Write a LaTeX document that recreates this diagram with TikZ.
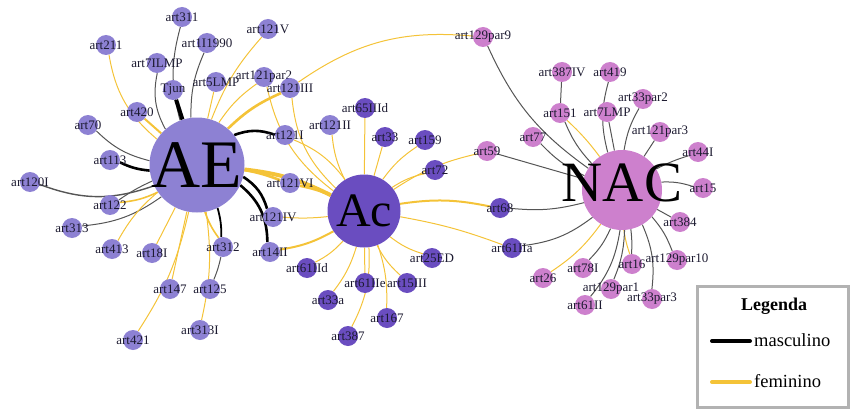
\documentclass[tikz,border=0pt]{standalone}
\usepackage{fontspec}
\setmainfont{Liberation Serif}
\pgfdeclarelayer{background}
\pgfsetlayers{background,main}
\definecolor{aecol}{HTML}{8D81D3}
\definecolor{accol}{HTML}{6A4DC0}
\definecolor{naccol}{HTML}{CD80CD}
\definecolor{femcol}{HTML}{F4C338}
\definecolor{neucol}{HTML}{555555}
\definecolor{lblcol}{HTML}{1C1A30}
\tikzset{
  sat/.style={circle, minimum size=20pt, inner sep=0pt},
  aesat/.style={sat, fill=aecol},
  acsat/.style={sat, fill=accol},
  nacsat/.style={sat, fill=naccol},
  lbl/.style={font=\fontsize{13}{13}\selectfont, text=lblcol, inner sep=0pt},
  biglbl/.style={inner sep=0pt, text=black},
  masc/.style={draw=black, line width=2.6pt},
  fem/.style={draw=femcol, line width=1pt},
  femw/.style={draw=femcol, line width=2.6pt},
  neu/.style={draw=neucol, line width=1pt},
}
\begin{document}
\begin{tikzpicture}[x=1pt,y=-1pt]
  \useasboundingbox (0,0) rectangle (850,409);
  % hubs
  \node[circle, fill=aecol, minimum size=95pt, inner sep=0pt,
        label={[biglbl, font=\fontsize{68}{68}\selectfont]center:AE}] (AE) at (197,165) {};
  \node[circle, fill=accol, minimum size=73pt, inner sep=0pt,
        label={[biglbl, font=\fontsize{48}{48}\selectfont]center:Ac}] (Ac) at (364,211) {};
  \node[circle, fill=naccol, minimum size=80pt, inner sep=0pt,
        label={[biglbl, font=\fontsize{57}{57}\selectfont, yshift=7pt]center:NAC}] (NAC) at (622,190) {};
  % AE articles
  \node[aesat, label={[lbl]center:art311}] (art311) at (182,17) {};
  \node[aesat, label={[lbl]center:art211}] (art211) at (106,45) {};
  \node[aesat, label={[lbl]center:art1I1990}] (art1I1990) at (207,43) {};
  \node[aesat, label={[lbl]center:art121V}] (art121V) at (268,29) {};
  \node[aesat, label={[lbl]center:art7ILMP}] (art7ILMP) at (157,63) {};
  \node[aesat, label={[lbl]center:Tjun}] (Tjun) at (173,90) {};
  \node[aesat, label={[lbl]center:art5LMP}] (art5LMP) at (216,82) {};
  \node[aesat, label={[lbl]center:art121par2}] (art121par2) at (264,77) {};
  \node[aesat, label={[lbl]center:art121III}] (art121III) at (290,88) {};
  \node[aesat, label={[lbl]center:art420}] (art420) at (137,112) {};
  \node[aesat, label={[lbl]center:art70}] (art70) at (88,125) {};
  \node[aesat, label={[lbl]center:art121I}] (art121I) at (285,135) {};
  \node[aesat, label={[lbl]center:art113}] (art113) at (110,160) {};
  \node[aesat, label={[lbl]center:art120I}] (art120I) at (30,182) {};
  \node[aesat, label={[lbl]center:art122}] (art122) at (110,205) {};
  \node[aesat, label={[lbl]center:art121VI}] (art121VI) at (290,183) {};
  \node[aesat, label={[lbl]center:art121IV}] (art121IV) at (273,217) {};
  \node[aesat, label={[lbl]center:art313}] (art313) at (72,228) {};
  \node[aesat, label={[lbl]center:art413}] (art413) at (112,249) {};
  \node[aesat, label={[lbl]center:art18I}] (art18I) at (152,253) {};
  \node[aesat, label={[lbl]center:art312}] (art312) at (223,247) {};
  \node[aesat, label={[lbl]center:art14II}] (art14II) at (270,252) {};
  \node[aesat, label={[lbl]center:art147}] (art147) at (170,289) {};
  \node[aesat, label={[lbl]center:art125}] (art125) at (210,289) {};
  \node[aesat, label={[lbl]center:art313I}] (art313I) at (200,330) {};
  \node[aesat, label={[lbl]center:art421}] (art421) at (133,340) {};
  \node[aesat, label={[lbl]center:art121II}] (art121II) at (330,125) {};
  % Ac articles
  \node[acsat, label={[lbl]center:art65IIId}] (art65IIId) at (365,108) {};
  \node[acsat, label={[lbl]center:art33}] (art33) at (385,137) {};
  \node[acsat, label={[lbl]center:art159}] (art159) at (425,140) {};
  \node[acsat, label={[lbl]center:art72}] (art72) at (435,170) {};
  \node[acsat, label={[lbl]center:art25ED}] (art25ED) at (432,258) {};
  \node[acsat, label={[lbl]center:art61IId}] (art61IId) at (307,268) {};
  \node[acsat, label={[lbl]center:art61IIe}] (art61IIe) at (365,283) {};
  \node[acsat, label={[lbl]center:art15III}] (art15III) at (407,283) {};
  \node[acsat, label={[lbl]center:art33a}] (art33a) at (328,300) {};
  \node[acsat, label={[lbl]center:art167}] (art167) at (387,318) {};
  \node[acsat, label={[lbl]center:art387}] (art387) at (348,336) {};
  \node[acsat, label={[lbl]center:art68}] (art68) at (500,208) {};
  \node[acsat, label={[lbl]center:art61IIa}] (art61IIa) at (512,248) {};
  % NAC articles
  \node[nacsat, label={[lbl]center:art129par9}] (art129par9) at (483,37) {};
  \node[nacsat, label={[lbl]center:art387IV}] (art387IV) at (562,72) {};
  \node[nacsat, label={[lbl]center:art419}] (art419) at (610,72) {};
  \node[nacsat, label={[lbl]center:art33par2}] (art33par2) at (643,99) {};
  \node[nacsat, label={[lbl]center:art151}] (art151) at (560,113) {};
  \node[nacsat, label={[lbl]center:art7LMP}] (art7LMP) at (607,112) {};
  \node[nacsat, label={[lbl]center:art121par3}] (art121par3) at (660,132) {};
  \node[nacsat, label={[lbl]center:art77}] (art77) at (533,137) {};
  \node[nacsat, label={[lbl]center:art59}] (art59) at (487,151) {};
  \node[nacsat, label={[lbl]center:art44I}] (art44I) at (698,152) {};
  \node[nacsat, label={[lbl]center:art15}] (art15) at (703,188) {};
  \node[nacsat, label={[lbl]center:art384}] (art384) at (680,222) {};
  \node[nacsat, label={[lbl]center:art16}] (art16) at (632,264) {};
  \node[nacsat, label={[lbl]center:art129par10}] (art129par10) at (677,260) {};
  \node[nacsat, label={[lbl]center:art78I}] (art78I) at (583,268) {};
  \node[nacsat, label={[lbl]center:art26}] (art26) at (543,278) {};
  \node[nacsat, label={[lbl]center:art129par1}] (art129par1) at (611,289) {};
  \node[nacsat, label={[lbl]center:art61II}] (art61II) at (585,305) {};
  \node[nacsat, label={[lbl]center:art33par3}] (art33par3) at (652,299) {};
  \begin{pgfonlayer}{background}
    % edges to AE
    \draw[neu] (art311) to[bend right=15] (AE);
    \draw[neu] (art1I1990) to[bend right=12] (AE);
    \draw[neu] (art7ILMP) to[bend right=20] (AE);
    \draw[masc, line width=4pt] (Tjun) -- (AE);
    \draw[fem] (art211) to[bend right=20] (AE);
    \draw[fem, line width=2pt] (art420) -- (AE);
    \draw[neu] (art70) to[bend right=15] (AE);
    \draw[masc] (art113) to[bend right=10] (AE);
    \draw[neu, line width=1.4pt] (art120I) to[bend right=20] (AE);
    \draw[fem, line width=1.6pt] (art122) to[bend right=10] (AE);
    \draw[neu] (art122) to[bend left=5] (AE);
    \draw[neu] (art313) to[bend right=15] (AE);
    \draw[fem] (art413) to[bend left=10] (AE);
    \draw[fem] (art18I) -- (AE);
    \draw[masc, line width=1.8pt] (art312) to[bend right=8] (AE);
    \draw[fem, line width=1.6pt] (art312) to[bend left=8] (AE);
    \draw[masc] (AE) to[bend left=25] (art14II);
    \draw[masc] (AE) to[bend left=20] (art121IV);
    \draw[masc] (AE) to[bend left=20] (art121I);
    \draw[fem] (art121V) to[bend right=10] (AE);
    \draw[fem] (art5LMP) -- (AE);
    \draw[fem] (art121par2) to[bend right=10] (AE);
    \draw[femw] (art121III) to[bend right=10] (AE);
    \draw[fem] (art147) -- (AE);
    \draw[fem] (art421) to[bend right=10] (AE);
    \draw[neu] (art125) to[bend right=5] (art312);
    \draw[fem] (art313I) to[bend right=10] (AE);
    \draw[femw] (AE) to[bend left=5] (art121VI);
    \draw[femw, line width=4pt] (AE) to[bend left=10] (Ac);
    \draw[fem] (art121III) to[bend left=20] (art129par9);
    % edges to Ac
    \draw[fem] (art121III) to[bend right=20] (Ac);
    \draw[fem] (art121par2) to[bend right=20] (Ac);
    \draw[fem] (art121II) to[bend right=10] (Ac);
    \draw[fem] (art121I) to[bend left=15] (Ac);
    \draw[fem] (art65IIId) -- (Ac);
    \draw[fem] (art33) -- (Ac);
    \draw[fem] (art159) to[bend right=10] (Ac);
    \draw[fem] (art72) to[bend right=10] (Ac);
    \draw[fem] (art59) to[bend right=10] (Ac);
    \draw[fem, line width=2pt] (Ac) to[bend left=10] (art68);
    \draw[fem] (Ac) to[bend left=5] (art61IIa);
    \draw[fem] (art25ED) to[bend left=10] (Ac);
    \draw[fem] (art15III) to[bend left=10] (Ac);
    \draw[fem] (art167) to[bend right=10] (Ac);
    \draw[fem] (art387) to[bend right=15] (Ac);
    \draw[fem] (art61IIe) -- (Ac);
    \draw[fem] (art33a) to[bend right=10] (Ac);
    \draw[fem] (art61IId) to[bend right=10] (Ac);
    \draw[fem, line width=2pt] (art14II) to[bend right=10] (Ac);
    \draw[fem] (art121IV) to[bend right=5] (Ac);
    \draw[femw] (art121VI) to[bend left=5] (Ac);
    % edges to NAC
    \draw[neu] (art129par9) to[bend right=15] (NAC);
    \draw[neu] (art387IV) -- (art151);
    \draw[neu] (art151) to[bend right=10] (NAC);
    \draw[fem] (art151) to[bend left=5] (NAC);
    \draw[neu] (art419) to[bend right=15] (NAC);
    \draw[neu] (art7LMP) -- (NAC);
    \draw[neu] (art33par2) to[bend right=10] (NAC);
    \draw[neu] (art121par3) -- (NAC);
    \draw[neu] (art44I) to[bend right=5] (NAC);
    \draw[neu] (art15) to[bend right=10] (NAC);
    \draw[neu] (art384) -- (NAC);
    \draw[neu] (art129par10) to[bend right=10] (NAC);
    \draw[neu] (art16) to[bend right=5] (NAC);
    \draw[fem] (art16) to[bend left=5] (NAC);
    \draw[neu] (art33par3) to[bend right=15] (NAC);
    \draw[neu] (art129par1) to[bend right=10] (NAC);
    \draw[neu] (art61II) to[bend right=15] (NAC);
    \draw[neu] (art78I) to[bend right=10] (NAC);
    \draw[fem] (art26) to[bend right=10] (NAC);
    \draw[neu] (art77) to[bend right=10] (NAC);
    \draw[neu] (art59) -- (NAC);
    \draw[neu] (art68) to[bend right=10] (NAC);
    \draw[neu] (art61IIa) to[bend right=15] (NAC);
  \end{pgfonlayer}
  % legend
  \draw[draw=black!30, line width=3pt] (697,286) rectangle (848,407);
  \node[font=\fontsize{18}{18}\selectfont\bfseries] (legtitle) at (774,306) {Legenda};
  \node[anchor=west, font=\fontsize{18.5}{18.5}\selectfont, inner sep=0pt] (legmasc) at (754,340) {masculino};
  \node[anchor=west, font=\fontsize{18.5}{18.5}\selectfont, inner sep=0pt] (legfem) at (754,381) {feminino};
  \coordinate (mascstart) at (712,341);
  \coordinate (femstart) at (712,382);
  \draw[black, line width=4pt, line cap=round] (mascstart) -- ++(38,0);
  \draw[draw=femcol, line width=4pt, line cap=round] (femstart) -- ++(38,0);
\end{tikzpicture}
\end{document}
